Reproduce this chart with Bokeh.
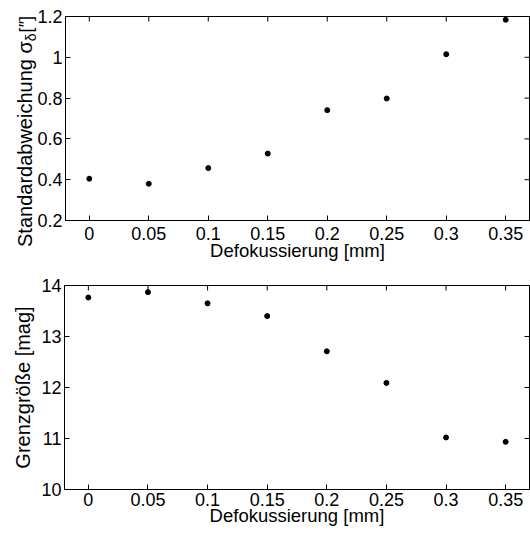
import math
from bokeh.plotting import figure
from bokeh.layouts import column, row
from bokeh.models import FixedTicker, Range1d, Div
from bokeh.embed import file_html
from bokeh.resources import INLINE

# ---- data ----
defocus = [0, 0.05, 0.1, 0.15, 0.2, 0.25, 0.3, 0.35]
sigma = [0.405, 0.38, 0.457, 0.528, 0.741, 0.798, 1.015, 1.184]
limit_mag = [13.765, 13.87, 13.65, 13.40, 12.71, 12.09, 11.02, 10.935]

x_ticks = [0, 0.05, 0.1, 0.15, 0.2, 0.25, 0.3, 0.35]
x_tick_labels = ["0", "0.05", "0.1", "0.15", "0.2", "0.25", "0.3", "0.35"]
y1_ticks = [0.2, 0.4, 0.6, 0.8, 1.0, 1.2]
y1_tick_labels = ["0.2", "0.4", "0.6", "0.8", "1", "1.2"]
y2_ticks = [10, 11, 12, 13, 14]
y2_tick_labels = ["10", "11", "12", "13", "14"]

x_label = "Defokussierung [mm]"
y1_label_main = "Standardabweichung σ"
y1_label_sub = "δ"
y1_label_unit = "[″]"
y2_label = "Grenzgröße [mag]"

FONT = "Liberation Sans"
XMIN, XMAX = -0.02, 0.37
Y1MIN, Y1MAX = 0.2, 1.2
Y2MIN, Y2MAX = 10, 14
TOTAL_W = 530
TOP_H, BOT_H = 277, 255
LABEL_W = 34
FRAME_LEFT = 64


def style_axis(ax, ticks, labels):
    ax.ticker = FixedTicker(ticks=ticks)
    ax.major_label_overrides = dict(zip(ticks, labels))
    ax.major_tick_in = 5
    ax.major_tick_out = 0
    ax.minor_tick_line_color = None
    ax.axis_line_color = "black"
    ax.axis_line_width = 1
    ax.major_tick_line_color = "black"
    ax.major_label_text_font = FONT
    ax.major_label_text_color = "black"
    ax.major_label_text_font_size = "18px"
    ax.major_label_standoff = 3
    ax.axis_label_text_font = FONT
    ax.axis_label_text_font_style = "normal"
    ax.axis_label_text_color = "black"


def make_fig(width, height, y_range, y_ticks, y_labels, left_border, top_border,
             bottom_border, x_std, x_lab_std, border_fill="white"):
    p = figure(width=width, height=height,
               x_range=Range1d(XMIN, XMAX), y_range=y_range,
               output_backend="svg", toolbar_location=None,
               min_border_left=left_border, min_border_right=1,
               min_border_top=top_border, min_border_bottom=bottom_border)
    p.grid.visible = False
    p.outline_line_color = "black"
    p.background_fill_color = "white"
    p.border_fill_color = border_fill
    xa, ya = p.xaxis[0], p.yaxis[0]
    style_axis(xa, x_ticks, x_tick_labels)
    style_axis(ya, y_ticks, y_labels)
    xa.major_label_standoff = x_std
    xa.axis_label = x_label
    xa.axis_label_text_font_size = "18.5px"
    xa.axis_label_standoff = x_lab_std
    # mirrored inward ticks on the top and right edges
    p.ray(x=x_ticks, y=[y_range.end] * len(x_ticks), length=5, angle=-math.pi / 2,
          length_units="screen", line_color="black", line_width=1)
    p.ray(x=[XMAX] * len(y_ticks), y=y_ticks, length=5, angle=math.pi,
          length_units="screen", line_color="black", line_width=1)
    return p


# ---- top plot ----
p1 = make_fig(TOTAL_W - LABEL_W, TOP_H, Range1d(Y1MIN, Y1MAX), y1_ticks, y1_tick_labels,
              FRAME_LEFT - LABEL_W, 16, 57, 6, -3, border_fill=None)
p1.scatter(defocus, sigma, size=5, color="black")

# rotated y label of the top plot, with the subscript delta
label_html = (
    '<div style="position:absolute; left:0; top:0; width:300px; height:20px; '
    'line-height:20px; white-space:nowrap; color:black; '
    "font-family:'Liberation Sans', Arial, sans-serif; font-size:20px; "
    'transform-origin:0 0; transform:translate(15px, 247px) rotate(-90deg);">'
    f'{y1_label_main}<span style="font-size:14px; position:relative; top:4px;">'
    f'{y1_label_sub}</span><span style="font-size:18px; margin-left:1px;">'
    f'{y1_label_unit}</span></div>'
)
lab = Div(text=label_html, width=LABEL_W, height=TOP_H, margin=(0, 0, 0, 0),
          styles={"position": "relative", "overflow": "visible", "z-index": "1"})

# ---- bottom plot ----
p2 = make_fig(TOTAL_W, BOT_H, Range1d(Y2MIN, Y2MAX), y2_ticks, y2_tick_labels,
              FRAME_LEFT, 8, 43, 3, -4)
p2.scatter(defocus, limit_mag, size=5, color="black")
p2.yaxis[0].axis_label = y2_label
p2.yaxis[0].axis_label_text_font_size = "20px"
p2.yaxis[0].axis_label_standoff = 4

layout = column(row(lab, p1), p2)
open("out.html", "w").write(file_html(layout, INLINE))
